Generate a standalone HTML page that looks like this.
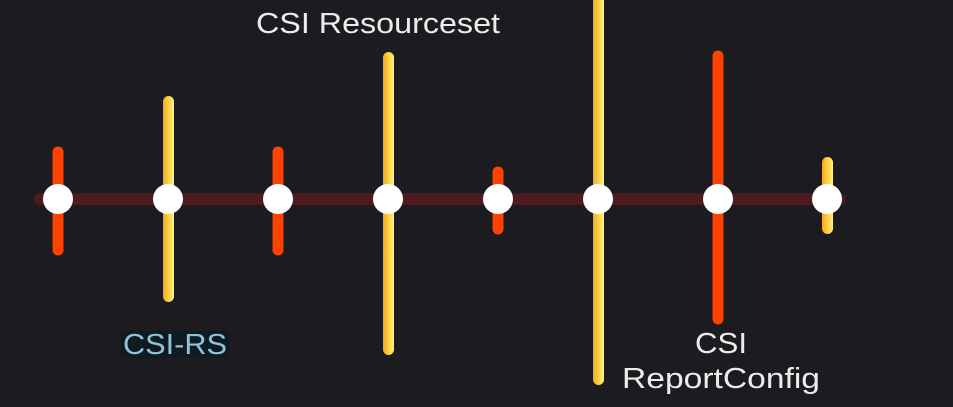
<!DOCTYPE html>
<html><head><style>
body{margin:0;width:953px;height:402px;background:#1c1b1f;overflow:hidden;font-family:"Liberation Sans",sans-serif}
</style></head><body>
<svg width="953" height="402" viewBox="0 0 953 402" xmlns="http://www.w3.org/2000/svg">
<defs>
<linearGradient id="y" x1="0" x2="1" y1="0" y2="0">
<stop offset="0" stop-color="#f5a623"/><stop offset="0.6" stop-color="#ffd84a"/><stop offset="1" stop-color="#fff27a"/>
</linearGradient>
</defs>
<line x1="40" y1="199" x2="840" y2="199" stroke="#4d1b1f" stroke-width="12" stroke-linecap="round"/>
<g stroke-width="11" stroke-linecap="round">
<line x1="58" y1="152" x2="58" y2="250" stroke="#ff4200"/>
<line x1="278" y1="152" x2="278" y2="250" stroke="#ff4200"/>
<line x1="498" y1="172" x2="498" y2="229" stroke="#ff4200"/>
<line x1="718" y1="56" x2="718" y2="319" stroke="#ff4200"/>
</g>
<g fill="url(#y)">
<rect x="163" y="96" width="11" height="206" rx="5.5"/>
<rect x="383" y="52" width="11" height="303" rx="5.5"/>
<rect x="593" y="-10" width="11" height="395" rx="5.5"/>
<rect x="822" y="157" width="11" height="77" rx="5.5"/>
</g>
<g fill="#fff">
<circle cx="58" cy="199" r="15"/><circle cx="168" cy="199" r="15"/><circle cx="278" cy="199" r="15"/>
<circle cx="388" cy="199" r="15"/><circle cx="498" cy="199" r="15"/><circle cx="598" cy="199" r="15"/>
<circle cx="718" cy="199" r="15"/><circle cx="827" cy="199" r="15"/>
</g>
<g font-size="29" font-family="Liberation Sans, sans-serif">
<text x="256" y="33" fill="#ececec" textLength="244" lengthAdjust="spacingAndGlyphs">CSI Resourceset</text>
<rect x="121" y="331" width="108" height="27" fill="#0f1a22"/>
<text x="123" y="354" fill="#8cc4d8" textLength="104" lengthAdjust="spacingAndGlyphs">CSI-RS</text>
<text x="695" y="353" fill="#ececec" textLength="52" lengthAdjust="spacingAndGlyphs">CSI</text>
<text x="622" y="388" fill="#ececec" textLength="198" lengthAdjust="spacingAndGlyphs">ReportConfig</text>
</g>
</svg>
</body></html>
